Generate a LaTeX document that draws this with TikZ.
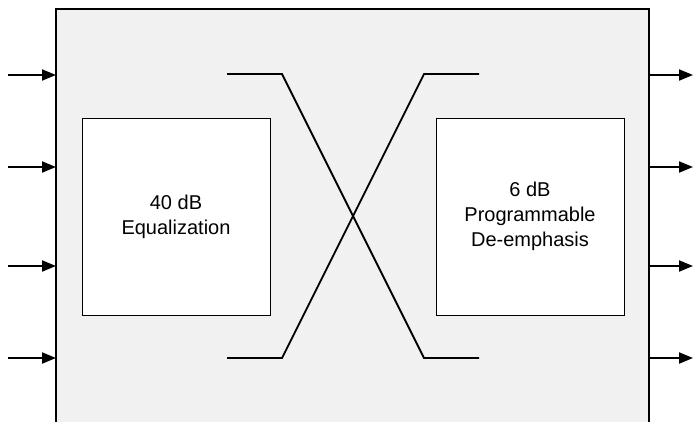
\documentclass[tikz,border=0pt]{standalone}
\usepackage{fontspec}
\setmainfont{Liberation Sans}
\usetikzlibrary{arrows.meta}
\definecolor{panel}{HTML}{F1F1F1}
\tikzset{
  x=1pt, y=-1pt,
  outerbox/.style={draw=black, line width=2pt, fill=panel},
  blockbox/.style={draw=black, line width=1pt, fill=white, minimum width=188pt, minimum height=197pt, inner sep=0pt, align=center, font=\fontsize{20}{25}\selectfont},
  wire/.style={line width=1.8pt},
  sig/.style={line width=2pt, -{Triangle[length=14pt, width=11pt]}}
}
\begin{document}
\begin{tikzpicture}
\useasboundingbox (0,0) rectangle (693,421);
\draw[outerbox] (56,9) rectangle (649,440);
\node[blockbox] (eq) at (176,216.5) {40 dB\\Equalization};
\node[blockbox] (de) at (530,216.5) {6 dB\\Programmable\\De-emphasis};
% cross-over wires
\coordinate (a1) at (227,74); \coordinate (a2) at (282,74);
\coordinate (a3) at (424,358); \coordinate (a4) at (479,358);
\coordinate (b1) at (227,358); \coordinate (b2) at (282,358);
\coordinate (b3) at (424,74); \coordinate (b4) at (479,74);
\draw[wire] (a1) -- (a2) -- (a3) -- (a4);
\draw[wire] (b1) -- (b2) -- (b3) -- (b4);
% inputs and outputs
\foreach \i/\yy in {1/75,2/167,3/266,4/358}{
  \coordinate (in\i) at (8,\yy);
  \coordinate (inE\i) at (56,\yy);
  \coordinate (outE\i) at (649,\yy);
  \coordinate (out\i) at (693,\yy);
  \draw[sig] (in\i) -- (inE\i);
  \draw[sig] (outE\i) -- (out\i);
}
\end{tikzpicture}
\end{document}
